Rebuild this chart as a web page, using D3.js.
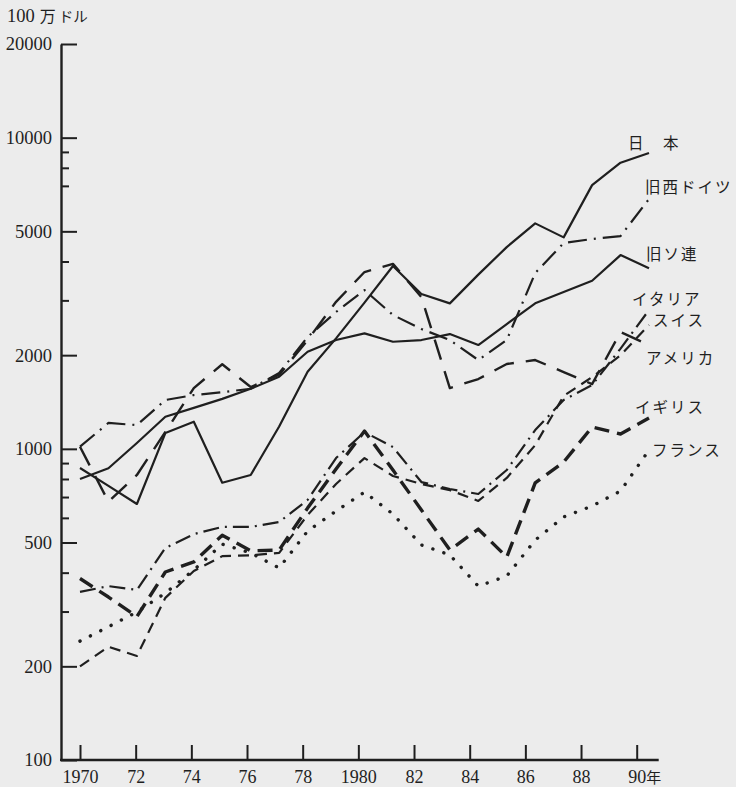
<!DOCTYPE html>
<html>
<head>
<meta charset="utf-8">
<script src="https://cdn.jsdelivr.net/npm/d3@7"></script>
<style>
  html, body { margin: 0; padding: 0; background: #ececec; }
  svg { display: block; }
</style>
</head>
<body>
<svg id="chart" width="736" height="787"></svg>
<script>
// Machine-tool production by country, 1970-1990 (million US dollars, log scale)
const years = d3.range(1970, 1991);

const japan   = [868, 760, 665, 1124, 1222, 778, 824, 1180, 1769, 2264, 2950, 3868, 3144, 2934, 3630, 4450, 5304, 4782, 7040, 8308, 8924];
const wGermany = [1016, 1211, 1192, 1435, 1489, 1520, 1560, 1752, 2288, 2752, 3237, 2692, 2427, 2237, 1929, 2237, 3672, 4585, 4723, 4829, 6350];
const ussr    = [800, 866, 1044, 1268, 1354, 1447, 1560, 1705, 2051, 2237, 2350, 2209, 2237, 2338, 2156, 2518, 2935, 3191, 3469, 4195, 3802];
const italy   = [347, 362, 352, 480, 532, 561, 561, 582, 685, 934, 1132, 1013, 782, 743, 716, 855, 1149, 1435, 1603, 2100, 2793];
const swiss   = [200, 231, 216, 332, 405, 452, 455, 463, 613, 771, 934, 818, 771, 737, 680, 806, 1028, 1480, 1700, 2000, 2500];
const usa     = [1016, 676, 824, 1133, 1568, 1870, 1580, 1730, 2237, 2968, 3700, 3930, 3074, 1568, 1676, 1873, 1929, 1765, 1615, 2373, 2156];
const uk      = [383, 334, 289, 402, 433, 528, 470, 473, 645, 861, 1141, 855, 636, 473, 552, 449, 777, 907, 1175, 1116, 1256];
const france  = [241, 268, 299, 344, 408, 494, 463, 414, 544, 631, 726, 617, 491, 456, 362, 390, 509, 604, 655, 732, 991];

const yMajorTicks = [100, 200, 500, 1000, 2000, 5000, 10000, 20000];
const yMinorTicks = [300, 400, 600, 700, 800, 900, 3000, 4000, 7000, 8000, 9000];
const xTickYears  = [1970, 1972, 1974, 1976, 1978, 1980, 1982, 1984, 1986, 1988, 1990];
const xTickLabels = ["1970", "72", "74", "76", "78", "1980", "82", "84", "86", "88", "90"];

const ink = "#1f1f1f";
const svg = d3.select("#chart");

// scales
const y = d3.scaleLog().domain([100, 20000]).range([760, 44]);
const xAxisScale = d3.scaleLinear().domain([1970, 1990]).range([80, 636.7]);
const x = d3.scaleLinear().domain([1970, 1990]).range([80, 649]);
const axisX = 61;

// y axis: labelled major ticks and short minor ticks, both pointing right
const yMajor = svg.append("g")
  .attr("transform", `translate(${axisX},0)`)
  .call(d3.axisLeft(y).tickValues(yMajorTicks).tickSize(-16).tickSizeOuter(0)
        .tickPadding(9).tickFormat(d3.format("d")));
yMajor.select(".domain").attr("stroke", ink).attr("stroke-width", 2.4);
yMajor.selectAll(".tick line").attr("stroke", ink).attr("stroke-width", 2);
yMajor.selectAll(".tick text")
  .attr("fill", ink).style("font-family", "'Liberation Serif', serif").style("font-size", "18.5px");

const yMinor = svg.append("g")
  .attr("transform", `translate(${axisX},0)`)
  .call(d3.axisLeft(y).tickValues(yMinorTicks).tickSize(-8).tickSizeOuter(0).tickFormat(""));
yMinor.select(".domain").remove();
yMinor.selectAll(".tick line").attr("stroke", ink).attr("stroke-width", 2);

// x axis: ticks pointing up, labels below
const xAxisG = svg.append("g")
  .attr("transform", `translate(0,${y(100)})`)
  .call(d3.axisBottom(xAxisScale).tickValues(xTickYears).tickSize(-15).tickSizeOuter(0)
        .tickPadding(10).tickFormat((d, i) => xTickLabels[i]));
xAxisG.select(".domain").remove();
xAxisG.selectAll(".tick line").attr("stroke", ink).attr("stroke-width", 2);
xAxisG.selectAll(".tick text")
  .attr("fill", ink).style("font-family", "'Liberation Serif', serif").style("font-size", "18px");
xAxisG.append("line")
  .attr("x1", axisX - 1).attr("x2", xAxisScale(1990) + 22)
  .attr("y1", 0).attr("y2", 0)
  .attr("stroke", ink).attr("stroke-width", 2.4);
xAxisG.append("text")
  .attr("x", xAxisScale(1990) + 17).attr("y", 23)
  .attr("fill", ink)
  .style("font-family", "'Noto Sans CJK JP', sans-serif").style("font-size", "15px")
  .text("年");

// unit caption
const unit = svg.append("text")
  .attr("x", 7).attr("y", 22).attr("fill", ink);
unit.append("tspan").style("font-family", "'Liberation Serif', serif").style("font-size", "18.5px").text("100");
unit.append("tspan").attr("dx", 5).style("font-family", "'Noto Sans CJK JP', sans-serif").style("font-size", "16px").text("万");
unit.append("tspan").attr("dx", 3).style("font-family", "'Noto Sans CJK JP', sans-serif").style("font-size", "14.5px").text("ドル");

// series
const series = [
  { name: "日本",     values: japan,    width: 2.2, dash: null,          cap: "butt" },
  { name: "旧ソ連",   values: ussr,     width: 2.2, dash: null,          cap: "butt" },
  { name: "旧西ドイツ", values: wGermany, width: 2.2, dash: "19 7 2 7",   cap: "butt" },
  { name: "アメリカ", values: usa,      width: 2.4, dash: "21 12",       cap: "butt" },
  { name: "イタリア", values: italy,    width: 2.2, dash: "16 6 2 6",    cap: "butt" },
  { name: "スイス",   values: swiss,    width: 2.2, dash: "11 7",        cap: "butt" },
  { name: "イギリス", values: uk,       width: 3.4, dash: "15 8",        cap: "butt" },
  { name: "フランス", values: france,   width: 3.4, dash: "0.1 11.5",    cap: "round" }
];

const line = d3.line()
  .x((d, i) => x(years[i]))
  .y(d => y(d));

svg.append("g").selectAll("path")
  .data(series)
  .join("path")
  .attr("d", d => line(d.values))
  .attr("fill", "none")
  .attr("stroke", ink)
  .attr("stroke-width", d => d.width)
  .attr("stroke-dasharray", d => d.dash)
  .attr("stroke-linecap", d => d.cap)
  .attr("stroke-linejoin", "round");

// series names at the right-hand end
const labels = [
  { text: "日\u3000本",   x: 628, y: 149 },
  { text: "旧西ドイツ", x: 645, y: 193 },
  { text: "旧ソ連",     x: 646, y: 260 },
  { text: "イタリア",   x: 632, y: 305 },
  { text: "スイス",     x: 653, y: 326 },
  { text: "アメリカ",   x: 646, y: 364 },
  { text: "イギリス",   x: 635, y: 413 },
  { text: "フランス",   x: 652, y: 456 }
];
svg.append("g").selectAll("text")
  .data(labels)
  .join("text")
  .attr("x", d => d.x).attr("y", d => d.y)
  .attr("fill", ink)
  .style("font-family", "'Noto Sans CJK JP', sans-serif")
  .style("font-size", "15.5px")
  .style("letter-spacing", "2px")
  .text(d => d.text);
</script>
</body>
</html>
